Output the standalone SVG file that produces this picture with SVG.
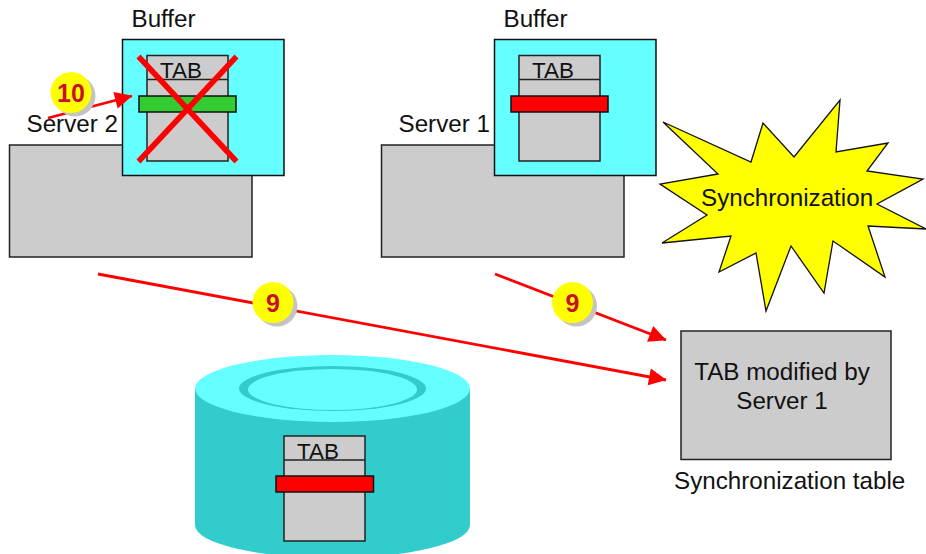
<svg xmlns="http://www.w3.org/2000/svg" width="926" height="554" viewBox="0 0 926 554">
<style>
text{font-family:"Liberation Sans",Arial,sans-serif;font-size:24.200px;fill:#111}
.g{fill:#ccc;stroke:#222;stroke-width:1.5}
.c{fill:#6ff;stroke:#111;stroke-width:1.5}
.t{font-size:22.400px}
.b{fill:#ff0}
.s{fill:#c4c4c4}
.n{font-weight:bold;font-size:25px;fill:#c8102e;text-anchor:middle}
.l{stroke:#f00;stroke-width:2.800;fill:none}
.bar{stroke:#111;stroke-width:1.5}
</style>
<defs>
<marker id="a" markerUnits="userSpaceOnUse" markerWidth="18" markerHeight="17" refX="17" refY="8.500" orient="auto" overflow="visible"><path d="M0 0L17.500 8.500L0 17Z" fill="#f00"/></marker>
</defs>
<g id="disk">
<path d="M195 388.5V525A137.5 33 0 0 0 470 525V388.5Z" fill="#3cc"/>
<ellipse cx="332.5" cy="388.5" rx="137.5" ry="33.5" fill="#6ff"/>
<ellipse cx="332.5" cy="388.5" rx="93.500" ry="22.500" fill="#3cc"/>
<ellipse cx="332.500" cy="389.500" rx="84.500" ry="20.500" fill="#6ff"/>
<rect class="g" x="284" y="436" width="81" height="105"/>
<path class="g" d="M284 460H365"/>
<text class="t" x="297" y="459">TAB</text>
<rect class="bar" x="276" y="476" width="97.500" height="16" fill="#f00"/>
</g>
<g id="server2">
<rect class="g" x="9.500" y="145" width="242.500" height="112"/>
<text x="26.500" y="132">Server 2</text>
</g>
<g id="buffer2">
<rect class="c" x="122.500" y="39.500" width="161.500" height="136"/>
<text x="131.500" y="27">Buffer</text>
<rect class="g" x="147" y="55.500" width="81" height="105.500"/>
<path class="g" d="M147 79.500H228"/>
<text class="t" x="160" y="78">TAB</text>
<rect class="bar" x="139" y="96" width="97" height="16" fill="#3c3"/>
<path d="M138.500 56.500L236.500 161.500M236.500 56.500L138.500 161.500" stroke="#f00" stroke-width="5.500" fill="none"/>
</g>
<g id="server1">
<rect class="g" x="381.500" y="145" width="242.500" height="112"/>
<text x="398.500" y="132">Server 1</text>
</g>
<g id="buffer1">
<rect class="c" x="494.500" y="39.500" width="161.500" height="136"/>
<text x="503.500" y="27">Buffer</text>
<rect class="g" x="519" y="55.500" width="81" height="105.500"/>
<path class="g" d="M519 79.500H600"/>
<text class="t" x="532" y="78">TAB</text>
<rect class="bar" x="511" y="96" width="97" height="16" fill="#f00"/>
</g>
<g id="synchronization">
<path d="M663 122L751 162L763 123L794 157L840 100L836 152L888 143L867 171L923 179L877 204L926 229L868 226L885 277L833 241L824 293L791 246L766 311L756 253L719 272L731 236L662 243L707 215L660 184L718 174Z" fill="#ff0" stroke="#111" stroke-width="1.300"/>
<text x="701" y="206">Synchronization</text>
</g>
<g id="sync-table">
<rect class="g" x="681" y="331" width="210" height="128.500"/>
<text x="782" y="380" text-anchor="middle">TAB modified by</text>
<text x="782" y="409" text-anchor="middle">Server 1</text>
<text x="674" y="489">Synchronization table</text>
</g>
<g id="connectors">
<path class="l" d="M48 118L132 96" marker-end="url(#a)"/>
<path class="l" d="M495 274L666 340" marker-end="url(#a)"/>
<path class="l" d="M98 274L666 380" marker-end="url(#a)"/>
</g>
<g id="badge-10">
<circle class="s" cx="75" cy="96" r="20.500"/>
<circle class="b" cx="71" cy="92.500" r="20.500"/>
<text class="n" x="71" y="101.500">10</text>
</g>
<g id="badge-9a">
<circle class="s" cx="277" cy="306" r="20.500"/>
<circle class="b" cx="273" cy="302.500" r="20.500"/>
<text class="n" x="273" y="311.500">9</text>
</g>
<g id="badge-9b">
<circle class="s" cx="576.500" cy="306" r="20.500"/>
<circle class="b" cx="572.500" cy="302.500" r="20.500"/>
<text class="n" x="572.500" y="311.500">9</text>
</g>
</svg>
